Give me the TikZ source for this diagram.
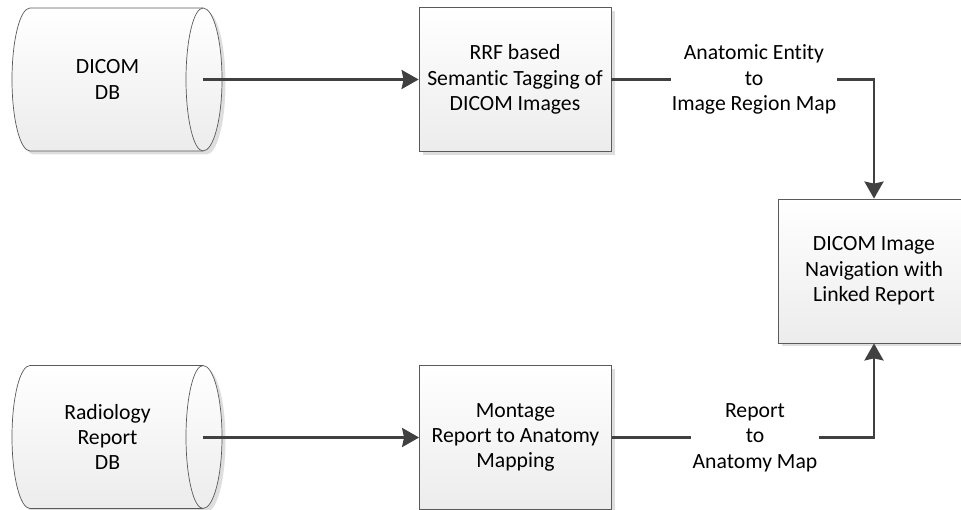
\documentclass[tikz,border=0pt]{standalone}
\usepackage{fontspec}
\setmainfont{Carlito}[Ligatures=NoCommon]
\usetikzlibrary{arrows.meta,shadows}
\definecolor{linec}{RGB}{64,64,64}
\definecolor{edgec}{RGB}{90,90,90}
\definecolor{fillbot}{RGB}{236,236,236}
\definecolor{shadowc}{RGB}{222,222,222}
\begin{document}
\begin{tikzpicture}[x=1pt,y=1pt,
  txt/.style={font=\fontsize{21.7}{25.3}\selectfont, align=center, text=black},
  procbox/.style={txt, draw=edgec, line width=0.8pt, top color=white, bottom color=fillbot,
    minimum width=192pt, minimum height=144pt, inner sep=0pt,
    drop shadow={shadow xshift=3.5pt, shadow yshift=-3.5pt, fill=shadowc, opacity=1}},
  dbtext/.style={txt, minimum width=191pt, minimum height=143pt, inner sep=0pt},
  dbshape/.style={draw=edgec, line width=0.7pt, top color=white, bottom color=fillbot},
  dbshadow/.style={fill=shadowc},
  maplabel/.style={txt, inner sep=1pt},
  conn/.style={line width=2.6pt, draw=linec, -{Stealth[length=17pt,width=19pt,inset=2pt]}},
  connplain/.style={line width=2.6pt, draw=linec}]
\useasboundingbox (0,0) rectangle (961,-510);
% DICOM DB cylinder
\fill[dbshadow] (33.5,-11.5) -- (206.5,-11.5) arc[start angle=90,end angle=-90,x radius=19,y radius=71.5] -- (33.5,-154.5) arc[start angle=270,end angle=90,x radius=18,y radius=71.5] -- cycle;
\path[dbshape] (30,-8) -- (203,-8) arc[start angle=90,end angle=-90,x radius=19,y radius=71.5] -- (30,-151) arc[start angle=270,end angle=90,x radius=18,y radius=71.5] -- cycle;
\draw[edgec, line width=0.7pt] (203,-8) arc[start angle=90,end angle=270,x radius=17,y radius=71.5];
% Radiology Report DB cylinder
\fill[dbshadow] (33.5,-369) -- (206.5,-369) arc[start angle=90,end angle=-90,x radius=19,y radius=71.5] -- (33.5,-512) arc[start angle=270,end angle=90,x radius=18,y radius=71.5] -- cycle;
\path[dbshape] (30,-365.5) -- (203,-365.5) arc[start angle=90,end angle=-90,x radius=19,y radius=71.5] -- (30,-508.5) arc[start angle=270,end angle=90,x radius=18,y radius=71.5] -- cycle;
\draw[edgec, line width=0.7pt] (203,-365.5) arc[start angle=90,end angle=270,x radius=17,y radius=71.5];

\node[dbtext] (dicom) at (107.5,-79.5) {DICOM\\DB};
\node[dbtext] (radio) at (107.5,-437) {Radiology\\Report\\DB};

\node[procbox] (rrf) at (515,-79.5) {RRF based\\Semantic Tagging of\\DICOM Images};
\node[procbox] (mont) at (515.5,-437.5) {Montage\\Report to Anatomy\\Mapping};
\node[procbox] (nav) at (874,-271) {DICOM Image\\Navigation with\\Linked Report};

\node[maplabel] (map1) at (754,-79.5) {Anatomic Entity\\to\\Image Region Map};
\node[maplabel] (map2) at (755,-437.5) {Report\\to\\Anatomy Map};

\draw[conn] (dicom) -- (rrf);
\draw[conn] (radio.east |- mont) -- (mont);
\draw[connplain] (rrf) -- (map1);
\draw[conn] (map1) -| (nav);
\draw[connplain] (mont) -- (map2);
\draw[conn] (map2) -| (nav);
\end{tikzpicture}
\end{document}
